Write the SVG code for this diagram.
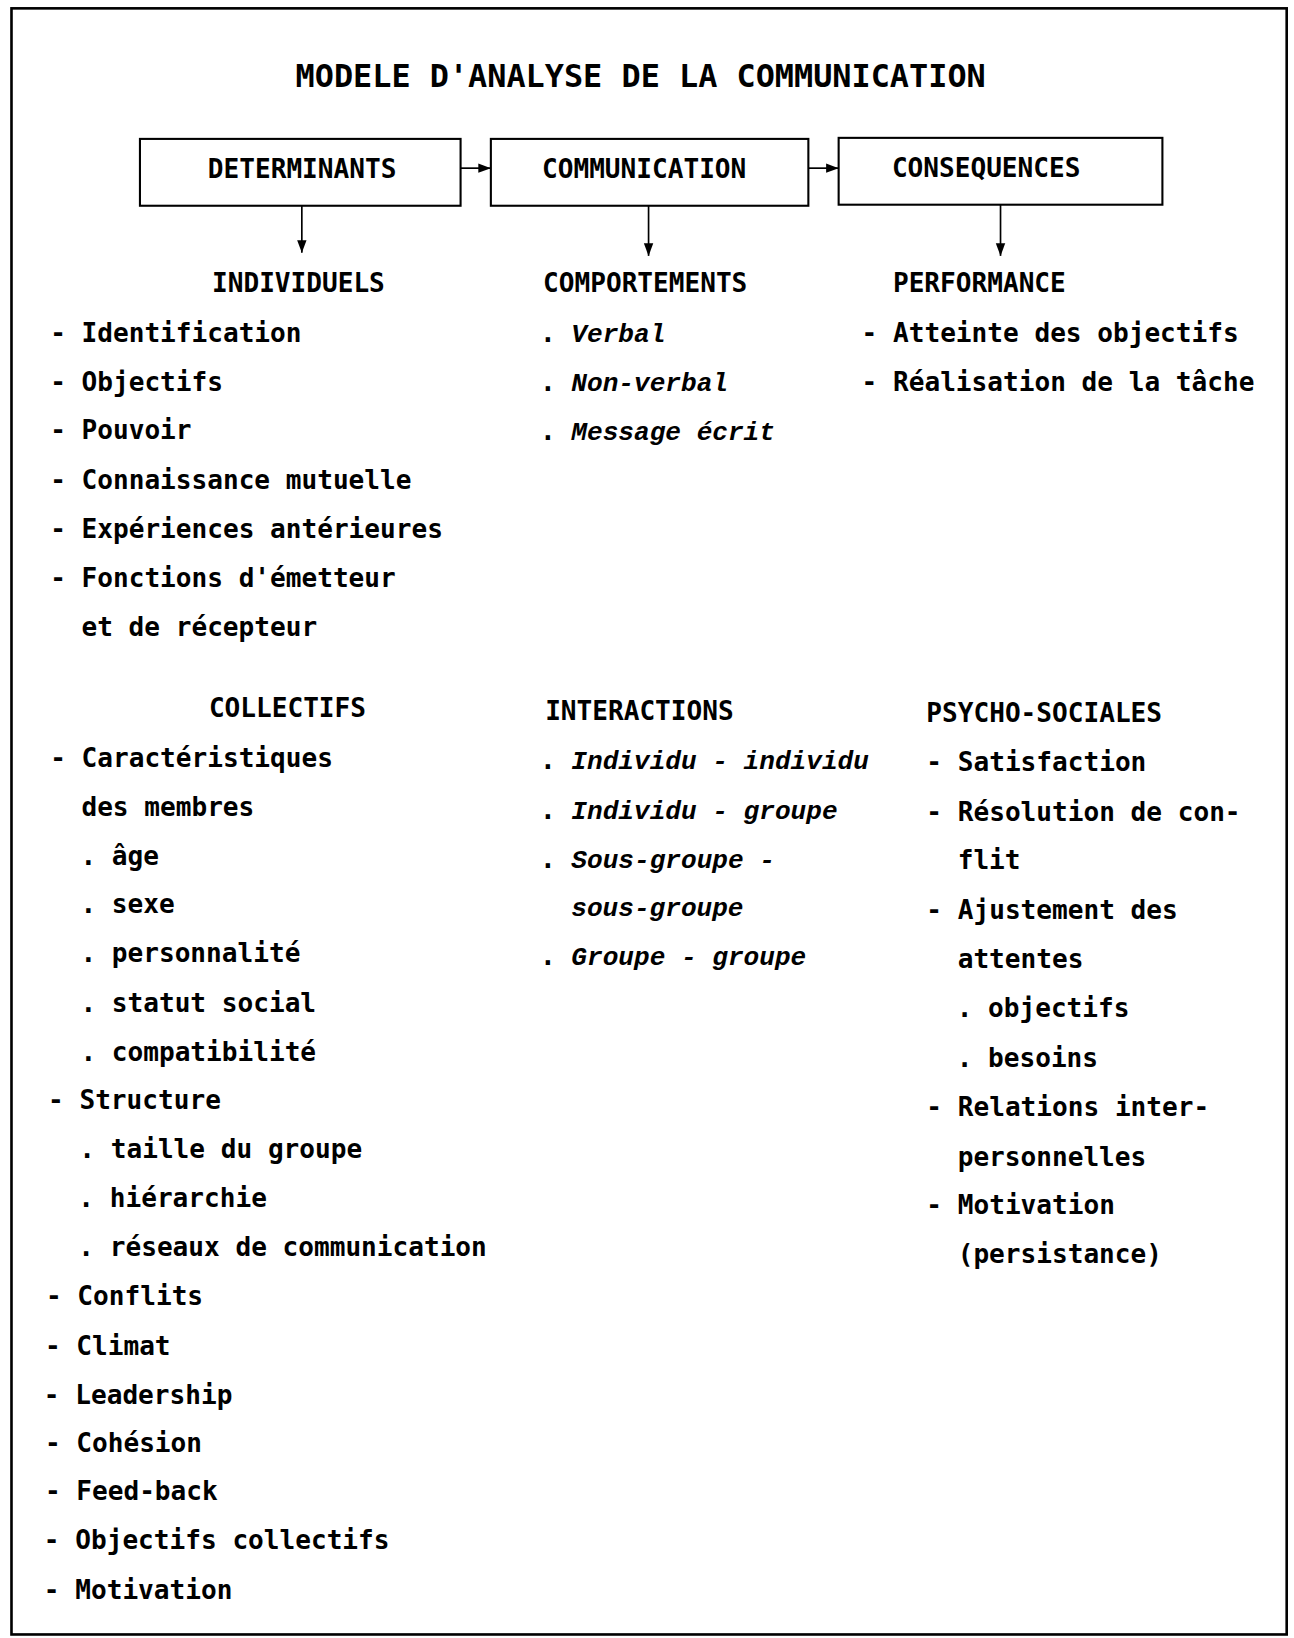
<svg xmlns="http://www.w3.org/2000/svg" width="1294" height="1638" viewBox="0 0 1294 1638">
  <style>
    .t { font-family: "DejaVu Sans Mono", "Liberation Mono", monospace; font-size: 25px; font-weight: bold; fill: #000; }
    .title { font-family: "DejaVu Sans Mono", "Liberation Mono", monospace; font-size: 30.5px; font-weight: bold; fill: #000; }
    .it { font-family: "Liberation Mono", "DejaVu Sans Mono", monospace; font-style: italic; font-weight: bold; }
    .box { fill: #fff; stroke: #000; stroke-width: 2; }
    .frame { fill: #fff; stroke: #000; stroke-width: 2.5; }
    .edge { fill: none; stroke: #000; stroke-width: 1.6; }
  </style>
  <defs>
    <marker id="arrow" viewBox="0 0 12 10" refX="12" refY="5" markerWidth="12" markerHeight="10" markerUnits="userSpaceOnUse" orient="auto">
      <path d="M0,0.5 L12,5 L0,9.5 Z" fill="#000"/>
    </marker>
  </defs>
  <rect width="1294" height="1638" fill="#fff"/>
  <g transform="scale(1.04439)">
    <rect class="frame" x="11" y="8" width="1221" height="1557"/>

    <g id="title">
      <text class="title" x="283" y="83">MODELE D'ANALYSE DE LA COMMUNICATION</text>
    </g>

    <!-- top row of boxes -->
    <g id="determinants">
      <rect class="box" x="134" y="133" width="307" height="64"/>
      <text class="t" x="199" y="170">DETERMINANTS</text>
    </g>
    <g id="communication">
      <rect class="box" x="470" y="133" width="304" height="64"/>
      <text class="t" x="519" y="170">COMMUNICATION</text>
    </g>
    <g id="consequences">
      <rect class="box" x="803" y="132" width="310" height="64"/>
      <text class="t" x="854" y="169">CONSEQUENCES</text>
    </g>

    <g id="connectors">
      <line class="edge" x1="441" y1="161" x2="470" y2="161" marker-end="url(#arrow)"/>
      <line class="edge" x1="774" y1="161" x2="803" y2="161" marker-end="url(#arrow)"/>
      <line class="edge" x1="289" y1="197" x2="289" y2="242" marker-end="url(#arrow)"/>
      <line class="edge" x1="621" y1="197" x2="621" y2="245" marker-end="url(#arrow)"/>
      <line class="edge" x1="958" y1="196" x2="958" y2="245" marker-end="url(#arrow)"/>
    </g>

    <!-- determinants: individual factors -->
    <g id="individuels">
      <text class="t" x="203" y="280">INDIVIDUELS</text>
      <text class="t" x="48" y="327">- Identification</text>
      <text class="t" x="48" y="374">- Objectifs</text>
      <text class="t" x="48" y="420">- Pouvoir</text>
      <text class="t" x="48" y="468">- Connaissance mutuelle</text>
      <text class="t" x="48" y="515">- Expériences antérieures</text>
      <text class="t" x="48" y="562">- Fonctions d'émetteur</text>
      <text class="t" x="78" y="609">et de récepteur</text>
    </g>

    <!-- determinants: collective factors -->
    <g id="collectifs">
      <text class="t" x="200" y="687">COLLECTIFS</text>
      <text class="t" x="48" y="734">- Caractéristiques</text>
      <text class="t" x="78" y="781">des membres</text>
      <text class="t" x="77" y="828">. âge</text>
      <text class="t" x="77" y="874">. sexe</text>
      <text class="t" x="77" y="921">. personnalité</text>
      <text class="t" x="77" y="969">. statut social</text>
      <text class="t" x="77" y="1016">. compatibilité</text>
      <text class="t" x="46" y="1062">- Structure</text>
      <text class="t" x="76" y="1109">. taille du groupe</text>
      <text class="t" x="75" y="1156">. hiérarchie</text>
      <text class="t" x="75" y="1203">. réseaux de communication</text>
      <text class="t" x="44" y="1250">- Conflits</text>
      <text class="t" x="43" y="1297">- Climat</text>
      <text class="t" x="42" y="1344">- Leadership</text>
      <text class="t" x="43" y="1390">- Cohésion</text>
      <text class="t" x="43" y="1436">- Feed-back</text>
      <text class="t" x="42" y="1483">- Objectifs collectifs</text>
      <text class="t" x="42" y="1531">- Motivation</text>
    </g>

    <!-- communication: behaviours -->
    <g id="comportements">
      <text class="t" x="520" y="280">COMPORTEMENTS</text>
      <text class="t" x="517" y="327">. <tspan class="it">Verbal</tspan></text>
      <text class="t" x="517" y="374">. <tspan class="it">Non-verbal</tspan></text>
      <text class="t" x="517" y="421">. <tspan class="it">Message écrit</tspan></text>
    </g>

    <!-- communication: interactions -->
    <g id="interactions">
      <text class="t" x="522" y="689">INTERACTIONS</text>
      <text class="t" x="517" y="736">. <tspan class="it">Individu - individu</tspan></text>
      <text class="t" x="517" y="784">. <tspan class="it">Individu - groupe</tspan></text>
      <text class="t" x="517" y="831">. <tspan class="it">Sous-groupe -</tspan></text>
      <text class="t" x="547" y="877"><tspan class="it">sous-groupe</tspan></text>
      <text class="t" x="517" y="924">. <tspan class="it">Groupe - groupe</tspan></text>
    </g>

    <!-- consequences: performance -->
    <g id="performance">
      <text class="t" x="855" y="280">PERFORMANCE</text>
      <text class="t" x="825" y="327">- Atteinte des objectifs</text>
      <text class="t" x="825" y="374">- Réalisation de la tâche</text>
    </g>

    <!-- consequences: psycho-social outcomes -->
    <g id="psycho-sociales">
      <text class="t" x="887" y="691">PSYCHO-SOCIALES</text>
      <text class="t" x="887" y="738">- Satisfaction</text>
      <text class="t" x="887" y="786">- Résolution de con-</text>
      <text class="t" x="917" y="832">flit</text>
      <text class="t" x="887" y="880">- Ajustement des</text>
      <text class="t" x="917" y="927">attentes</text>
      <text class="t" x="916" y="974">. objectifs</text>
      <text class="t" x="916" y="1022">. besoins</text>
      <text class="t" x="887" y="1069">- Relations inter-</text>
      <text class="t" x="917" y="1116">personnelles</text>
      <text class="t" x="887" y="1162">- Motivation</text>
      <text class="t" x="917" y="1209">(persistance)</text>
    </g>
  </g>
</svg>
